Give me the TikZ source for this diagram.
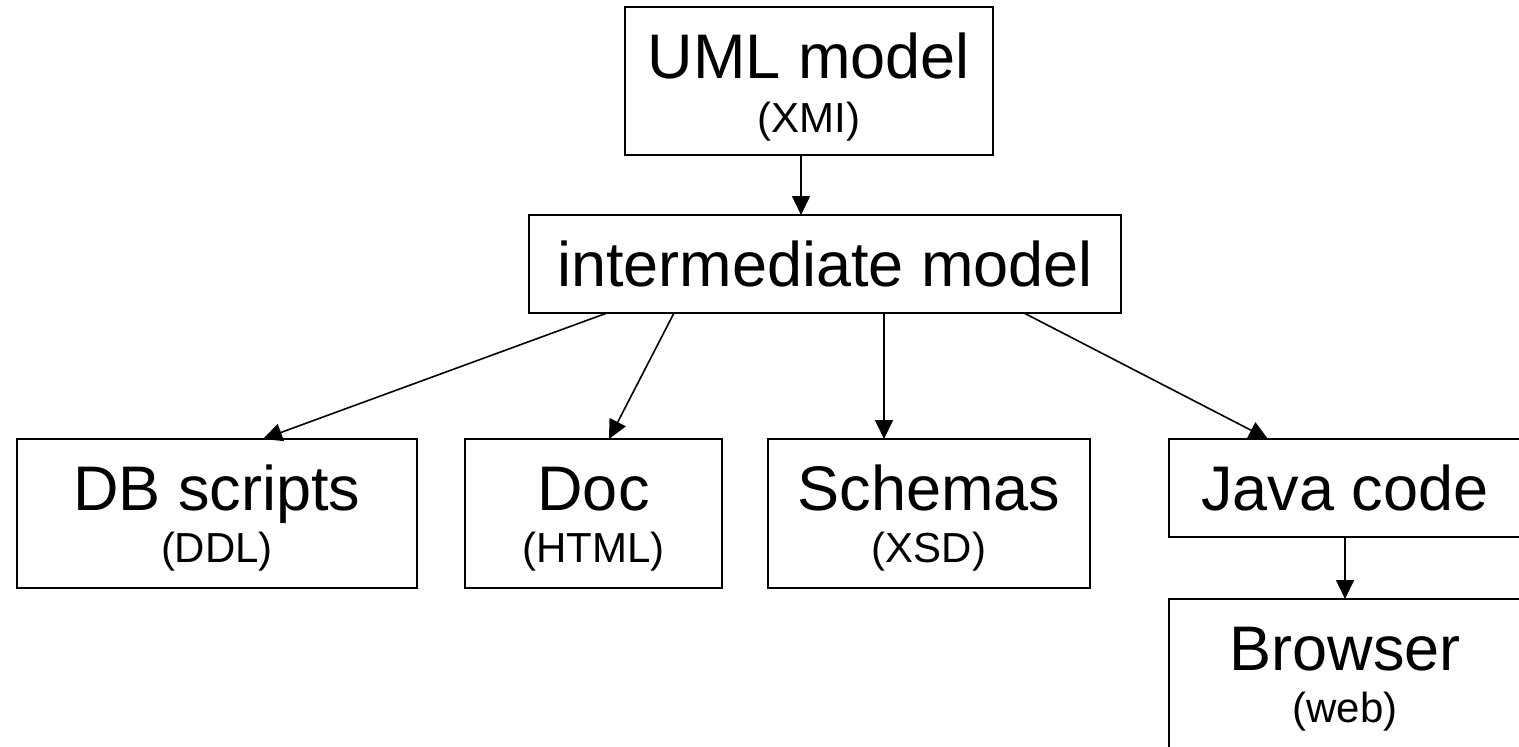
\documentclass[tikz,border=0pt]{standalone}
\usepackage{fontspec}
\setmainfont{Liberation Sans}
\usetikzlibrary{arrows.meta}
\begin{document}
\begin{tikzpicture}[x=0.5pt,y=-0.5pt,
  box/.style={draw=black, line width=0.8pt, inner sep=0pt, outer sep=0pt},
  ttl/.style={font=\fontsize{31.5}{36}\selectfont, inner sep=0pt},
  subt/.style={font=\fontsize{21}{25}\selectfont, inner sep=0pt},
  arr/.style={-{Triangle[length=9.5pt,width=9pt]}, line width=0.8pt}]
\useasboundingbox (0,0) rectangle (1519,746);
% boxes
\node[box, minimum width=184pt, minimum height=74pt] (uml) at (809,81) {};
\node[box, minimum width=296pt, minimum height=49pt] (im) at (825,264) {};
\node[box, minimum width=200pt, minimum height=74.5pt] (db) at (217,513.5) {};
\node[box, minimum width=128.5pt, minimum height=74.5pt] (doc) at (593.5,513.5) {};
\node[box, minimum width=161pt, minimum height=74.5pt] (sch) at (929,513.5) {};
\node[box, minimum width=176pt, minimum height=49pt] (java) at (1345,488) {};
\node[box, minimum width=176pt, minimum height=74.5pt] (br) at (1345,673.5) {};
% texts
\node[ttl, anchor=base] (umlt) at ([yshift=-35.5pt]uml.north) {UML model};
\node[subt, anchor=base] (umls) at ([yshift=-62.5pt]uml.north) {(XMI)};
\node[ttl, anchor=base] (imt) at ([yshift=-35.5pt]im.north) {intermediate model};
\node[ttl, anchor=base] (dbt) at ([yshift=-35.5pt]db.north) {DB scripts};
\node[subt, anchor=base] (dbs) at ([yshift=-61.5pt]db.north) {(DDL)};
\node[ttl, anchor=base] (doct) at ([yshift=-35.5pt]doc.north) {Doc};
\node[subt, anchor=base] (docs) at ([yshift=-61.5pt]doc.north) {(HTML)};
\node[ttl, anchor=base] (scht) at ([yshift=-35.5pt]sch.north) {Schemas};
\node[subt, anchor=base] (schs) at ([yshift=-61.5pt]sch.north) {(XSD)};
\node[ttl, anchor=base] (javat) at ([yshift=-35.5pt]java.north) {Java code};
\node[ttl, anchor=base] (brt) at ([yshift=-35.5pt]br.north) {Browser};
\node[subt, anchor=base] (brs) at ([yshift=-61.5pt]br.north) {(web)};
% connectors
\draw[arr] ([xshift=-4pt]uml.south) -- ([xshift=-12pt]im.north);
\draw[arr] ([xshift=-109pt]im.south) -- ([xshift=23pt]db.north);
\draw[arr] ([xshift=-75.5pt]im.south) -- ([xshift=7.75pt]doc.north);
\draw[arr] ([xshift=29.5pt]im.south) -- ([xshift=-22.5pt]sch.north);
\draw[arr] ([xshift=99.5pt]im.south) -- ([xshift=-38.5pt]java.north);
\draw[arr] (java.south) -- (br.north);
\end{tikzpicture}
\end{document}
